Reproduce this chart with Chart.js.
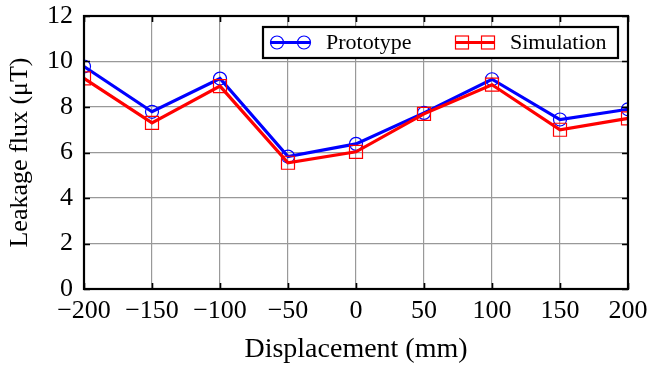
<!DOCTYPE html>
<html>
<head>
<meta charset="utf-8">
<script src="https://cdn.jsdelivr.net/npm/chart.js@4.4.0/dist/chart.umd.min.js"></script>
<style>
html,body{margin:0;padding:0;background:#fff;}
#wrap{width:648px;height:366px;}
</style>
</head>
<body>
<div id="wrap"><canvas id="c" width="648" height="366"></canvas></div>
<script>
const displacement = [-200, -150, -100, -50, 0, 50, 100, 150, 200];
const prototypeFlux = [9.78, 7.79, 9.25, 5.82, 6.38, 7.74, 9.22, 7.45, 7.9];
const simulationFlux = [9.26, 7.3, 8.92, 5.55, 6.03, 7.7, 8.98, 7.0, 7.5];
const seriesNames = ['Prototype', 'Simulation'];
const xTicks = [-200, -150, -100, -50, 0, 50, 100, 150, 200];
const yTicks = [0, 2, 4, 6, 8, 10, 12];

const SERIF = '"Liberation Serif", "DejaVu Serif", serif';
const BLUE = '#0000ff';
const RED = '#ff0000';

function pts(ys){ return displacement.map((x,i)=>({x:x, y:ys[i]})); }

const framePlugin = {
  id: 'frame',
  afterDatasetsDraw(chart){
    const ctx = chart.ctx, a = chart.chartArea;
    const xs = chart.scales.x, ys = chart.scales.y;
    ctx.save();
    ctx.strokeStyle = '#000';
    ctx.lineWidth = 1.6;
    const tl = 6;
    ctx.beginPath();
    xTicks.forEach(v=>{
      const px = Math.round(xs.getPixelForValue(v)) + 0.5;
      ctx.moveTo(px, a.bottom); ctx.lineTo(px, a.bottom - tl);
      ctx.moveTo(px, a.top); ctx.lineTo(px, a.top + tl);
    });
    yTicks.forEach(v=>{
      const py = Math.round(ys.getPixelForValue(v)) + 0.5;
      ctx.moveTo(a.left, py); ctx.lineTo(a.left + tl, py);
      ctx.moveTo(a.right, py); ctx.lineTo(a.right - tl, py);
    });
    ctx.stroke();
    ctx.lineWidth = 2.2;
    ctx.strokeRect(a.left, a.top, a.right - a.left, a.bottom - a.top);
    ctx.restore();
  },
  afterDraw(chart){
    const ctx = chart.ctx, a = chart.chartArea;
    const bx = a.left + 179, by = a.top + 11, bw = a.right - 10 - (a.left + 179), bh = 31;
    ctx.save();
    ctx.fillStyle = '#fff';
    ctx.fillRect(bx, by, bw, bh);
    ctx.strokeStyle = '#000';
    ctx.lineWidth = 2.2;
    ctx.strokeRect(bx, by, bw, bh);
    const cy = by + bh/2;
    // Prototype sample
    ctx.strokeStyle = BLUE; ctx.lineWidth = 3;
    ctx.beginPath(); ctx.moveTo(bx + 7, cy); ctx.lineTo(bx + 47, cy); ctx.stroke();
    ctx.lineWidth = 1.2;
    [bx + 14, bx + 41].forEach(cx=>{ ctx.beginPath(); ctx.arc(cx, cy, 6.5, 0, Math.PI*2); ctx.stroke(); });
    ctx.fillStyle = '#000';
    ctx.font = '22px ' + SERIF;
    ctx.textBaseline = 'middle';
    ctx.textAlign = 'left';
    ctx.fillText(seriesNames[0], bx + 63, cy + 1);
    // Simulation sample
    ctx.strokeStyle = RED; ctx.lineWidth = 3;
    ctx.beginPath(); ctx.moveTo(bx + 192, cy); ctx.lineTo(bx + 232, cy); ctx.stroke();
    ctx.lineWidth = 1.2;
    [bx + 199, bx + 225].forEach(cx=>{ ctx.strokeRect(cx - 6.5, cy - 6.5, 13, 13); });
    ctx.fillStyle = '#000';
    ctx.fillText(seriesNames[1], bx + 247, cy + 1);
    ctx.restore();
  }
};

new Chart(document.getElementById('c'), {
  type: 'line',
  data: {
    datasets: [
      {
        label: seriesNames[0], data: pts(prototypeFlux),
        borderColor: BLUE, borderWidth: 3.2, backgroundColor: 'rgba(0,0,0,0)',
        pointStyle: 'circle', pointRadius: 6.5, pointBorderWidth: 1.2,
        pointBorderColor: BLUE, pointBackgroundColor: 'rgba(0,0,0,0)',
        tension: 0, order: 2, clip: 1
      },
      {
        label: seriesNames[1], data: pts(simulationFlux),
        borderColor: RED, borderWidth: 3.2, backgroundColor: 'rgba(0,0,0,0)',
        pointStyle: 'rect', pointRadius: 9.2, pointBorderWidth: 1.2,
        pointBorderColor: RED, pointBackgroundColor: 'rgba(0,0,0,0)',
        tension: 0, order: 1, clip: 1
      }
    ]
  },
  options: {
    responsive: false,
    devicePixelRatio: 1,
    animation: false,
    layout: { padding: { left: 0, right: 20, top: 16, bottom: 0 } },
    plugins: { legend: { display: false }, tooltip: { enabled: false } },
    scales: {
      x: {
        type: 'linear', min: -200, max: 200,
        afterBuildTicks(s){ s.ticks = xTicks.map(v=>({value:v})); },
        afterFit(s){ s.height = 77; s.paddingLeft = 0; s.paddingRight = 0; },
        grid: { color: '#999', lineWidth: 1.2, drawTicks: false },
        border: { display: false },
        ticks: {
          color: '#000', font: { family: SERIF, size: 26 }, padding: 7,
          maxRotation: 0, autoSkip: false,
          callback: v => (v < 0 ? '\u2212' + Math.abs(v) : String(v))
        },
        title: {
          display: true, text: 'Displacement (mm)', color: '#000',
          font: { family: SERIF, size: 28 }, padding: { top: 8, bottom: 0 }
        }
      },
      y: {
        type: 'linear', min: 0, max: 12,
        afterBuildTicks(s){ s.ticks = yTicks.map(v=>({value:v})); },
        afterFit(s){ s.width = 84; s.paddingTop = 0; s.paddingBottom = 0; },
        grid: { color: '#999', lineWidth: 1.2, drawTicks: false },
        border: { display: false },
        ticks: {
          color: '#000', font: { family: SERIF, size: 26 }, padding: 11,
          callback: v => String(v)
        },
        title: {
          display: true, text: 'Leakage flux (\u03BCT)', color: '#000',
          font: { family: SERIF, size: 26 }, padding: { top: 5, bottom: 0 }
        }
      }
    }
  },
  plugins: [framePlugin]
});
</script>
</body>
</html>
